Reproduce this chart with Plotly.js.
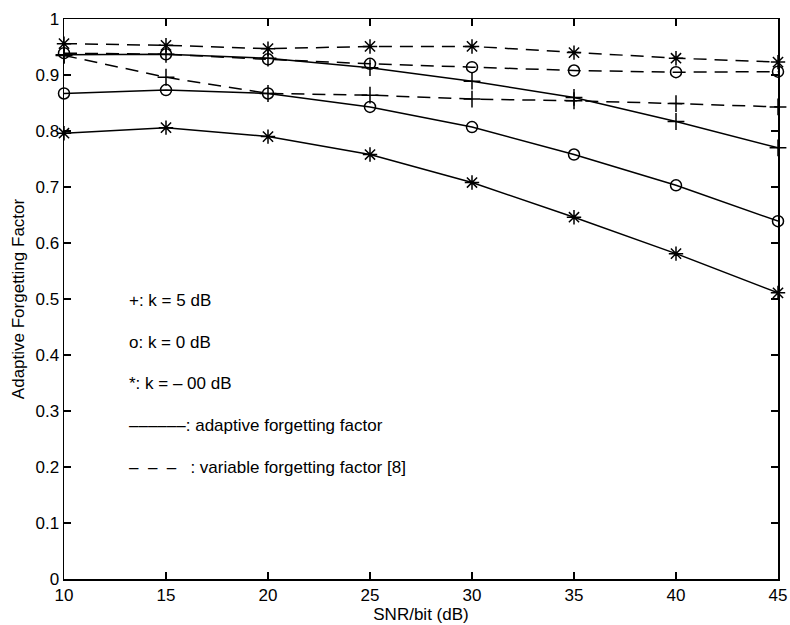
<!DOCTYPE html>
<html>
<head>
<meta charset="utf-8">
<script src="https://cdn.plot.ly/plotly-3.0.1.min.js"></script>
<style>html,body{margin:0;padding:0;background:#fff;}#chart{width:790px;height:625px;}</style>
</head>
<body>
<div id="chart"></div>
<script>
// SNR/bit (dB)
const snr = [10, 15, 20, 25, 30, 35, 40, 45];
// Adaptive forgetting factor (solid lines)
const adaptivePlus  = [0.936, 0.937, 0.930, 0.913, 0.889, 0.860, 0.817, 0.770];
const adaptiveCirc  = [0.867, 0.873, 0.867, 0.843, 0.807, 0.758, 0.703, 0.639];
const adaptiveStar  = [0.796, 0.806, 0.790, 0.758, 0.708, 0.646, 0.581, 0.511];
// Variable forgetting factor [8] (dashed lines)
const variablePlus  = [0.935, 0.896, 0.867, 0.864, 0.857, 0.854, 0.849, 0.843];
const variableCirc  = [0.939, 0.937, 0.928, 0.920, 0.914, 0.908, 0.905, 0.906];
const variableStar  = [0.956, 0.953, 0.947, 0.951, 0.951, 0.940, 0.930, 0.923];

const legendLines = [
  "+: k = 5 dB",
  "o: k = 0 dB",
  "*: k = \u2013 00 dB",
  "\u2013\u2013\u2013\u2013\u2013\u2013: adaptive forgetting factor",
  "\u2013  \u2013  \u2013   : variable forgetting factor [8]"
];

const FONT = "Liberation Sans, Arial, Helvetica, sans-serif";
const markerOf = {
  plus: {symbol: "cross-thin-open", size: 12},
  circ: {symbol: "circle-open", size: 11},
  star: {symbol: "asterisk-open", size: 12}
};
function tr(y, kind, dashed) {
  const m = markerOf[kind];
  return {
    x: snr, y: y, type: "scatter", mode: "lines+markers", cliponaxis: false,
    line: {color: "#000", width: 1.5, dash: dashed ? "13px,8px" : "solid"},
    marker: {symbol: m.symbol, size: m.size, color: "#000", line: {color: "#000", width: 1.5}},
    showlegend: false, hoverinfo: "skip"
  };
}
const data = [
  tr(variableStar, "star", true),
  tr(variableCirc, "circ", true),
  tr(variablePlus, "plus", true),
  tr(adaptivePlus, "plus", false),
  tr(adaptiveCirc, "circ", false),
  tr(adaptiveStar, "star", false)
];

const annY = [0.497, 0.422, 0.349, 0.274, 0.199];
const annotations = legendLines.map((t, i) => ({
  x: 13.1, y: annY[i], xref: "x", yref: "y", text: t, showarrow: false,
  xanchor: "left", yanchor: "middle", font: {family: FONT, size: 17, color: "#000"}
}));

const layout = {
  width: 790, height: 625,
  margin: {l: 64, r: 12, t: 19, b: 46},
  paper_bgcolor: "#fff", plot_bgcolor: "#fff",
  font: {family: FONT, size: 17, color: "#000"},
  xaxis: {
    range: [10, 45], dtick: 5, tick0: 10,
    ticks: "inside", ticklen: 7, tickwidth: 1.2, tickcolor: "#000",
    showline: true, linecolor: "#000", linewidth: 1.5, mirror: "ticks",
    showgrid: false, zeroline: false,
    tickfont: {family: FONT, size: 17},
    title: {text: "SNR/bit (dB)", font: {family: FONT, size: 17}, standoff: 0}
  },
  yaxis: {
    range: [0, 1], dtick: 0.1, tick0: 0,
    ticks: "inside", ticklen: 7, tickwidth: 1.2, tickcolor: "#000",
    showline: true, linecolor: "#000", linewidth: 1.5, mirror: "ticks",
    showgrid: false, zeroline: false,
    tickfont: {family: FONT, size: 17},
    title: {text: "Adaptive Forgetting Factor", font: {family: FONT, size: 17}, standoff: 6}
  },
  annotations: annotations
};

Plotly.newPlot("chart", data, layout, {staticPlot: true, displayModeBar: false});
</script>
</body>
</html>
